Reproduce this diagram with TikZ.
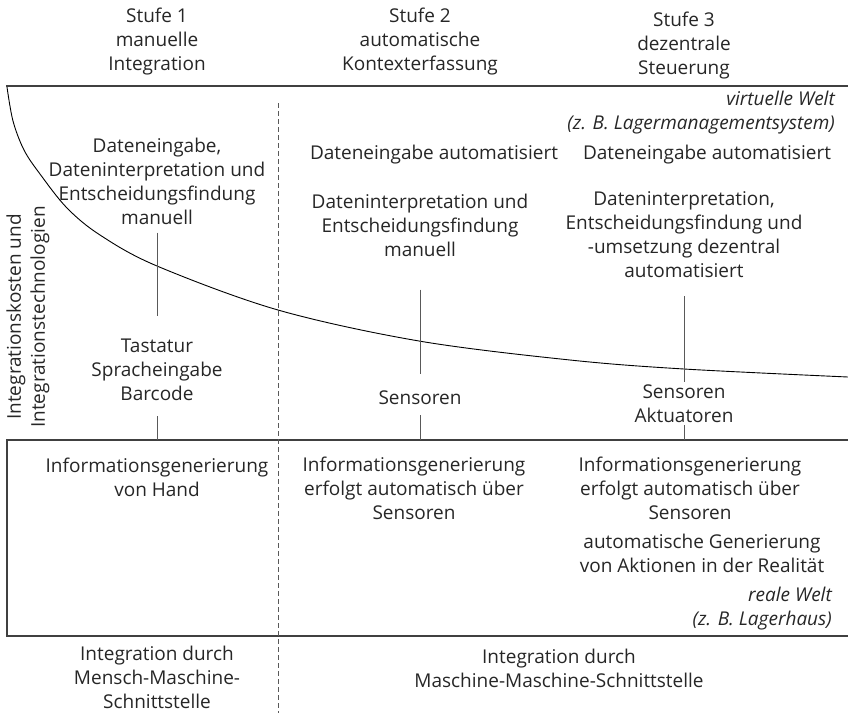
\documentclass[tikz,border=0pt]{standalone}
\usepackage{fontspec}
\setmainfont{Open Sans}

\begin{document}
\begin{tikzpicture}[x=1pt, y=-1pt, font=\fontsize{19}{24}\selectfont, text=black!85,
	txt/.style={align=center, inner sep=0pt},
	world/.style={align=right, anchor=east, inner sep=0pt, font=\fontsize{19}{24}\selectfont\itshape},
	vline/.style={draw=black!65, line width=0.9pt},
	frame/.style={draw=black!75, line width=1.1pt}]
	\useasboundingbox (0,0) rectangle (848,713);
	% Stufen
	\node[txt] (h1) at (157,42) {Stufe 1\\manuelle\\Integration};
	\node[txt] (h2) at (420,42) {Stufe 2\\automatische\\Kontexterfassung};
	\node[txt] (h3) at (684,46) {Stufe 3\\dezentrale\\Steuerung};
	% Rahmen und Kurve
	\draw[frame] (6,86) -- (848,86);
	\draw[frame] (848,440) -- (7,440) -- (7,636) -- (848,636);
	\draw[draw=black!65, line width=0.9pt, dash pattern=on 5pt off 3pt] (278,103) -- (278,713);
	\draw[line width=0.9pt] plot[smooth, tension=0.55] coordinates {(7,87) (13,121) (24,150) (40,174) (67,208) (100,235) (157,266) (278,310) (419,341) (570,360) (684,369) (848,377)};
	\node[world] (vw) at (835,113) {virtuelle Welt\\(z. B. Lagermanagementsystem)};
	\node[txt, rotate=90] (ax) at (28,317) {Integrationskosten und\\Integrationstechnologien};
	% obere Ebene
	\node[txt] (c1dat) at (157,181) {Dateneingabe,\\Dateninterpretation und\\Entscheidungsfindung\\manuell};
	\node[txt] (c2in) at (434,155) {Dateneingabe automatisiert};
	\node[txt] (c2dat) at (420,225) {Dateninterpretation und\\Entscheidungsfindung\\manuell};
	\node[txt] (c3in) at (707,155) {Dateneingabe automatisiert};
	\node[txt] (c3dat) at (684,235) {Dateninterpretation,\\Entscheidungsfindung und\\-umsetzung dezentral\\automatisiert};
	\node[txt] (c1dev) at (157,370) {Tastatur\\Spracheingabe\\Barcode};
	\node[txt] (c2dev) at (420,398) {Sensoren};
	\node[txt] (c3dev) at (684,404) {Sensoren\\Aktuatoren};
	\coordinate (g1) at (157,440);
	\coordinate (g2) at (420,440);
	\coordinate (g3) at (684,440);
	\draw[vline, shorten <=8pt, shorten >=23pt] (c1dat) -- (c1dev);
	\draw[vline, shorten <=33pt, shorten >=17pt] (c2dat) -- (c2dev);
	\draw[vline, shorten <=18pt, shorten >=3pt] (c3dat) -- (c3dev);
	\draw[vline, shorten <=15pt] (c1dev) -- (g1);
	\draw[vline, shorten <=10pt] (c2dev) -- (g2);
	\draw[vline, shorten <=2pt] (c3dev) -- (g3);
	% untere Ebene
	\node[txt] (c1gen) at (157,477) {Informationsgenerierung\\von Hand};
	\node[txt] (c2gen) at (414,488) {Informationsgenerierung\\erfolgt automatisch über\\Sensoren};
	\node[txt] (c3gen) at (690,488) {Informationsgenerierung\\erfolgt automatisch über\\Sensoren};
	\node[txt] (c3act) at (702,553) {automatische Generierung\\von Aktionen in der Realität};
	\node[world] (rw) at (832,609) {reale Welt\\(z. B. Lagerhaus)};
	% Schnittstellen
	\node[txt] (b1) at (157,677) {Integration durch\\Mensch-Maschine-\\Schnittstelle};
	\node[txt] (b2) at (559,668) {Integration durch\\Maschine-Maschine-Schnittstelle};
\end{tikzpicture}
\end{document}
